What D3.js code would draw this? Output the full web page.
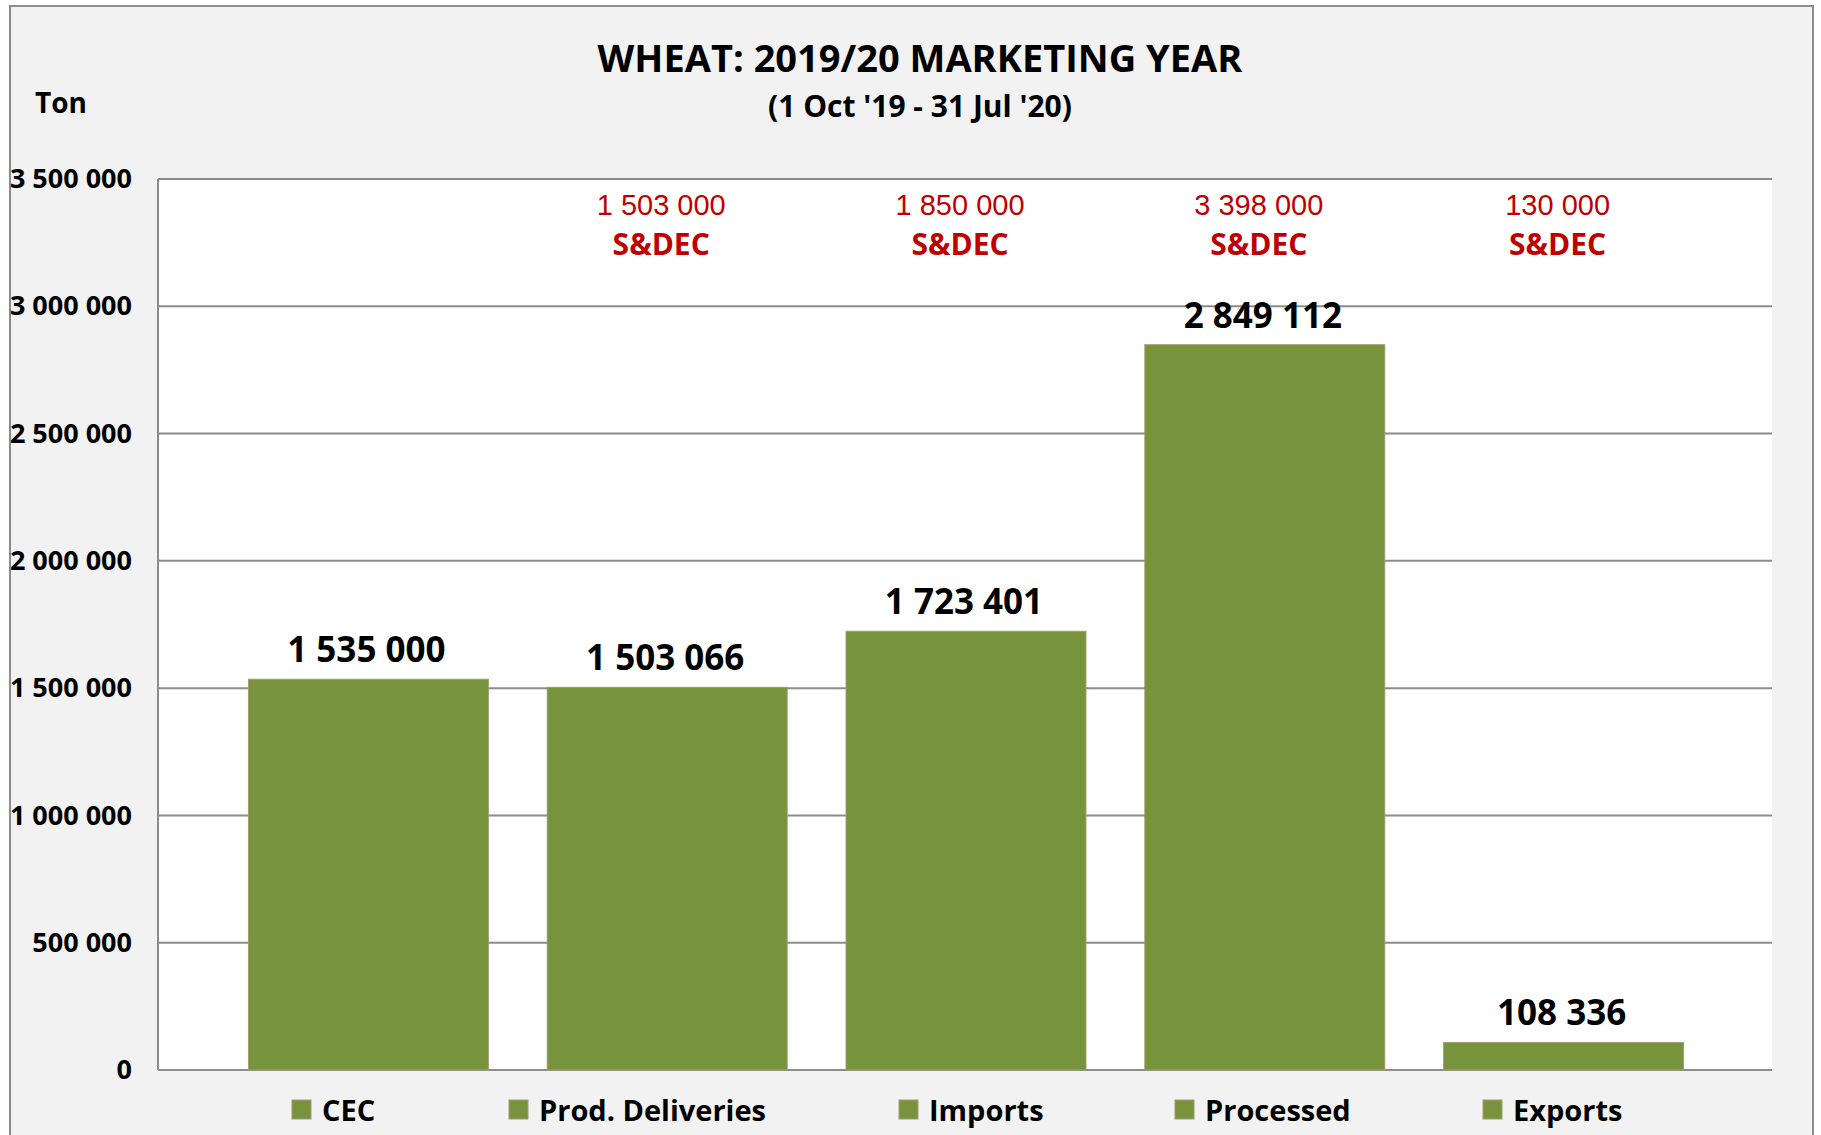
<!DOCTYPE html>
<html>
<head>
<meta charset="utf-8">
<script src="https://cdn.jsdelivr.net/npm/d3@7"></script>
<style>
  body { margin: 0; background: #ffffff; }
  text { font-family: "Open Sans", sans-serif; }
</style>
</head>
<body>
<div id="chart"></div>
<script>
var categories = ["CEC", "Prod. Deliveries", "Imports", "Processed", "Exports"];
var values = [1535000, 1503066, 1723401, 2849112, 108336];
// S&DEC estimates shown in red above the bars (none for CEC)
var estimates = [null, 1503000, 1850000, 3398000, 130000];
var yTicks = [0, 500000, 1000000, 1500000, 2000000, 2500000, 3000000, 3500000];

var W = 1821, H = 1135;
var plot = {left: 158, right: 1772, top: 179, bottom: 1070};
var barColor = "#77933c";

var fmt = d3.formatLocale({decimal: ".", thousands: " ", grouping: [3], currency: ["", ""]}).format(",d");

var svg = d3.select("#chart").append("svg")
    .attr("width", W)
    .attr("height", H);

// outer chart area
svg.append("rect")
    .attr("x", 10).attr("y", 6)
    .attr("width", 1803).attr("height", H + 10)
    .attr("fill", "#f2f2f2")
    .attr("stroke", "#8c8c8c")
    .attr("stroke-width", 2);

svg.append("rect")
    .attr("x", plot.left).attr("y", plot.top)
    .attr("width", plot.right - plot.left)
    .attr("height", plot.bottom - plot.top)
    .attr("fill", "#ffffff");

var x = d3.scaleBand()
    .domain(categories)
    .range([219, 1713])
    .paddingInner(0.197)
    .paddingOuter(0.0985);

var y = d3.scaleLinear()
    .domain([0, 3500000])
    .range([plot.bottom, plot.top]);

// gridlines
svg.append("g")
    .selectAll("line")
    .data(yTicks)
    .enter().append("line")
    .attr("x1", plot.left)
    .attr("x2", plot.right)
    .attr("y1", function(d) { return y(d); })
    .attr("y2", function(d) { return y(d); })
    .attr("stroke", "#8c8c8c")
    .attr("stroke-width", 2);

svg.append("line")
    .attr("x1", plot.left).attr("x2", plot.left)
    .attr("y1", plot.top).attr("y2", plot.bottom)
    .attr("stroke", "#8c8c8c")
    .attr("stroke-width", 2);

var axisY = svg.append("g")
    .attr("transform", "translate(" + plot.left + ",0)")
    .call(d3.axisLeft(y).tickValues(yTicks).tickSize(0).tickPadding(26).tickFormat(fmt));
axisY.select(".domain").remove();
axisY.selectAll("text")
    .style("font-family", "'Open Sans', sans-serif")
    .style("font-size", "27px")
    .style("font-weight", "bold")
    .attr("fill", "#000");

// bars
svg.append("g")
    .selectAll("rect")
    .data(values)
    .enter().append("rect")
    .attr("x", function(d, i) { return x(categories[i]); })
    .attr("y", function(d) { return y(d); })
    .attr("width", x.bandwidth())
    .attr("height", function(d) { return y(0) - y(d); })
    .attr("fill", barColor)
    .attr("stroke", "#a39a6c")
    .attr("stroke-width", 1);

svg.append("g")
    .selectAll("text")
    .data(values)
    .enter().append("text")
    .attr("x", function(d, i) { return x(categories[i]) + x.bandwidth() / 2 - 2; })
    .attr("y", function(d) { return y(d) - 17; })
    .attr("text-anchor", "middle")
    .style("font-size", "35px")
    .style("font-weight", "bold")
    .text(function(d) { return fmt(d); });

// red S&DEC estimates
var est = svg.append("g")
    .selectAll("g")
    .data(estimates)
    .enter().filter(function(d) { return d !== null; })
    .append("g")
    .attr("transform", function(d) {
        var c = categories[estimates.indexOf(d)];
        return "translate(" + (x(c) + x.bandwidth() / 2 - 6) + ",0)";
    });

est.append("text")
    .attr("y", 215)
    .attr("text-anchor", "middle")
    .attr("fill", "#c00000")
    .style("font-family", "'Liberation Sans', Arial, sans-serif")
    .style("font-size", "29px")
    .text(function(d) { return fmt(d); });

est.append("text")
    .attr("y", 255)
    .attr("text-anchor", "middle")
    .attr("fill", "#c00000")
    .style("font-size", "30px")
    .style("font-weight", "bold")
    .text("S&DEC");

// titles
svg.append("text")
    .attr("x", 920).attr("y", 72)
    .attr("text-anchor", "middle")
    .style("font-size", "38px")
    .style("font-weight", "bold")
    .text("WHEAT: 2019/20 MARKETING YEAR");

svg.append("text")
    .attr("x", 920).attr("y", 117)
    .attr("text-anchor", "middle")
    .style("font-size", "30px")
    .style("font-weight", "bold")
    .text("(1 Oct '19 - 31 Jul '20)");

svg.append("text")
    .attr("x", 35).attr("y", 113)
    .style("font-size", "28px")
    .style("font-weight", "bold")
    .text("Ton");

// legend
var legendX = [292, 509, 899, 1175, 1483];
var legend = svg.append("g")
    .selectAll("g")
    .data(categories)
    .enter().append("g")
    .attr("transform", function(d, i) { return "translate(" + legendX[i] + ",1100)"; });

legend.append("rect")
    .attr("width", 19).attr("height", 19)
    .attr("fill", barColor)
    .attr("stroke", "#a39a6c")
    .attr("stroke-width", 1);

legend.append("text")
    .attr("x", 30).attr("y", 21)
    .style("font-size", "29px")
    .style("font-weight", "bold")
    .text(function(d) { return d; });
</script>
</body>
</html>
